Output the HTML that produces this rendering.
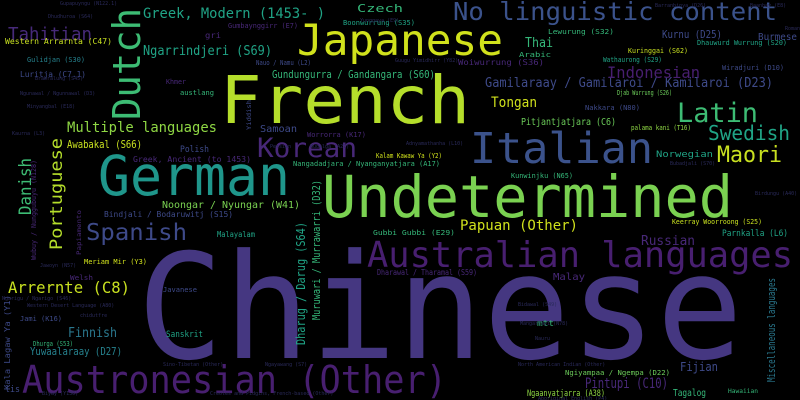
<!DOCTYPE html>
<html><head><meta charset="utf-8"><style>
html,body{margin:0;padding:0;background:#000;width:800px;height:400px;overflow:hidden;}
svg{display:block}
text{font-family:"DejaVu Sans Mono","Liberation Mono",monospace;}
</style></head><body>
<svg width="800" height="400" viewBox="0 0 800 400">
<rect width="800" height="400" fill="#000"/>
<g>
<text x="137" y="358" font-size="146" textLength="606" lengthAdjust="spacingAndGlyphs" fill="#453781">Chinese</text>
<text x="22" y="393" font-size="38" textLength="425" lengthAdjust="spacingAndGlyphs" fill="#481f70">Austronesian (Other)</text>
<text x="322" y="217" font-size="58" textLength="411" lengthAdjust="spacingAndGlyphs" fill="#7ad151">Undetermined</text>
<text x="220" y="123" font-size="66" textLength="250" lengthAdjust="spacingAndGlyphs" fill="#b5de2b">French</text>
<text x="297" y="55" font-size="43" textLength="206" lengthAdjust="spacingAndGlyphs" fill="#d0e11c">Japanese</text>
<text x="98" y="195" font-size="55" textLength="192" lengthAdjust="spacingAndGlyphs" fill="#1f968b">German</text>
<text x="470" y="163" font-size="43" textLength="183" lengthAdjust="spacingAndGlyphs" fill="#3b528b">Italian</text>
<text transform="translate(140,120) rotate(-90)" font-size="38" textLength="112" lengthAdjust="spacingAndGlyphs" fill="#3dbc74">Dutch</text>
<text x="367" y="267" font-size="36" textLength="426" lengthAdjust="spacingAndGlyphs" fill="#481f70">Australian languages</text>
<text x="257" y="157" font-size="27" textLength="100" lengthAdjust="spacingAndGlyphs" fill="#482878">Korean</text>
<text x="677" y="122" font-size="27" textLength="81" lengthAdjust="spacingAndGlyphs" fill="#3dbc74">Latin</text>
<text x="708" y="140" font-size="20" textLength="82" lengthAdjust="spacingAndGlyphs" fill="#20a486">Swedish</text>
<text x="717" y="162" font-size="22" textLength="65" lengthAdjust="spacingAndGlyphs" fill="#c8e020">Maori</text>
<text x="453" y="20" font-size="25" textLength="324" lengthAdjust="spacingAndGlyphs" fill="#3b528b">No linguistic content</text>
<text x="143" y="18" font-size="14" textLength="182" lengthAdjust="spacingAndGlyphs" fill="#20a486">Greek, Modern (1453- )</text>
<text x="8" y="40" font-size="18" textLength="84" lengthAdjust="spacingAndGlyphs" fill="#472a7a">Tahitian</text>
<text x="143" y="55" font-size="13" textLength="129" lengthAdjust="spacingAndGlyphs" fill="#20a486">Ngarrindjeri (S69)</text>
<text x="272" y="78" font-size="11" textLength="163" lengthAdjust="spacingAndGlyphs" fill="#35b779">Gundungurra / Gandangara (S60)</text>
<text x="485" y="87" font-size="13" textLength="288" lengthAdjust="spacingAndGlyphs" fill="#3e4a89">Gamilaraay / Gamilaroi / Kamilaroi (D23)</text>
<text x="607" y="78" font-size="16" textLength="93" lengthAdjust="spacingAndGlyphs" fill="#481f70">Indonesian</text>
<text x="491" y="107" font-size="14" textLength="46" lengthAdjust="spacingAndGlyphs" fill="#d0e11c">Tongan</text>
<text x="521" y="125" font-size="10" textLength="95" lengthAdjust="spacingAndGlyphs" fill="#6ccd5a">Pitjantjatjara (C6)</text>
<text x="67" y="132" font-size="14" textLength="150" lengthAdjust="spacingAndGlyphs" fill="#8fd744">Multiple languages</text>
<text x="67" y="148" font-size="11" textLength="75" lengthAdjust="spacingAndGlyphs" fill="#c8e020">Awabakal (S66)</text>
<text transform="translate(31,215) rotate(-90)" font-size="17" textLength="57" lengthAdjust="spacingAndGlyphs" fill="#3dbc74">Danish</text>
<text transform="translate(62,250) rotate(-90)" font-size="17" textLength="112" lengthAdjust="spacingAndGlyphs" fill="#b5de2b">Portuguese</text>
<text x="86" y="240" font-size="23" textLength="101" lengthAdjust="spacingAndGlyphs" fill="#3e4a89">Spanish</text>
<text x="8" y="293" font-size="16" textLength="122" lengthAdjust="spacingAndGlyphs" fill="#c8e020">Arrernte (C8)</text>
<text x="460" y="230" font-size="14" textLength="118" lengthAdjust="spacingAndGlyphs" fill="#d0e11c">Papuan (Other)</text>
<text x="641" y="245" font-size="13" textLength="54" lengthAdjust="spacingAndGlyphs" fill="#482878">Russian</text>
<text x="680" y="371" font-size="12" textLength="38" lengthAdjust="spacingAndGlyphs" fill="#3e4a89">Fijian</text>
<text x="68" y="337" font-size="13" textLength="49" lengthAdjust="spacingAndGlyphs" fill="#2a788e">Finnish</text>
<text x="30" y="355" font-size="11" textLength="92" lengthAdjust="spacingAndGlyphs" fill="#26828e">Yuwaalaraay (D27)</text>
<text transform="translate(775,382) rotate(-90)" font-size="11" textLength="104" lengthAdjust="spacingAndGlyphs" fill="#2a788e">Miscellaneous languages</text>
<text x="585" y="388" font-size="14" textLength="83" lengthAdjust="spacingAndGlyphs" fill="#482878">Pintupi (C10)</text>
<text x="527" y="396" font-size="9" textLength="78" lengthAdjust="spacingAndGlyphs" fill="#8fd744">Ngaanyatjarra (A38)</text>
<text x="525" y="47" font-size="13" textLength="28" lengthAdjust="spacingAndGlyphs" fill="#35b779">Thai</text>
<text x="357" y="12" font-size="11" textLength="46" lengthAdjust="spacingAndGlyphs" fill="#35b779">Czech</text>
<text x="662" y="38" font-size="11" textLength="60" lengthAdjust="spacingAndGlyphs" fill="#3e4a89">Kurnu (D25)</text>
<text x="758" y="40" font-size="10" textLength="39" lengthAdjust="spacingAndGlyphs" fill="#3e4a89">Burmese</text>
<text x="166" y="337" font-size="9" textLength="37" lengthAdjust="spacingAndGlyphs" fill="#20a486">Sanskrit</text>
<text x="217" y="237" font-size="8" textLength="38" lengthAdjust="spacingAndGlyphs" fill="#20a486">Malayalam</text>
<text x="260" y="132" font-size="10" textLength="37" lengthAdjust="spacingAndGlyphs" fill="#3e4a89">Samoan</text>
<text x="180" y="152" font-size="9" textLength="29" lengthAdjust="spacingAndGlyphs" fill="#3e4a89">Polish</text>
<text x="656" y="157" font-size="9" textLength="57" lengthAdjust="spacingAndGlyphs" fill="#20a486">Norwegian</text>
<text x="673" y="396" font-size="10" textLength="33" lengthAdjust="spacingAndGlyphs" fill="#35b779">Tagalog</text>
<text x="722" y="236" font-size="9" textLength="66" lengthAdjust="spacingAndGlyphs" fill="#20a486">Parnkalla (L6)</text>
<text x="162" y="208" font-size="10" textLength="138" lengthAdjust="spacingAndGlyphs" fill="#7ad151">Noongar / Nyungar (W41)</text>
<text x="84" y="264" font-size="7" textLength="63" lengthAdjust="spacingAndGlyphs" fill="#d0e11c">Meriam Mir (Y3)</text>
<text x="104" y="217" font-size="8" textLength="129" lengthAdjust="spacingAndGlyphs" fill="#3e4a89">Bindjali / Bodaruwitj (S15)</text>
<text x="376" y="158" font-size="7" textLength="66" lengthAdjust="spacingAndGlyphs" fill="#d0e11c">Kalam Kawaw Ya (Y2)</text>
<text x="293" y="166" font-size="7" textLength="147" lengthAdjust="spacingAndGlyphs" fill="#35b779">Nangadadjara / Nyanganyatjara (A17)</text>
<text transform="translate(305,345) rotate(-90)" font-size="12" textLength="123" lengthAdjust="spacingAndGlyphs" fill="#20a486">Dharug / Darug (S64)</text>
<text transform="translate(320,320) rotate(-90)" font-size="11" textLength="140" lengthAdjust="spacingAndGlyphs" fill="#35b779">Muruwari / Murrawarri (D32)</text>
<text x="133" y="162" font-size="8" textLength="118" lengthAdjust="spacingAndGlyphs" fill="#482878">Greek, Ancient (to 1453)</text>
<text x="511" y="178" font-size="7" textLength="62" lengthAdjust="spacingAndGlyphs" fill="#35b779">Kunwinjku (N65)</text>
<text x="631" y="130" font-size="7" textLength="60" lengthAdjust="spacingAndGlyphs" fill="#8fd744">palama kani (T16)</text>
<text x="672" y="224" font-size="7" textLength="90" lengthAdjust="spacingAndGlyphs" fill="#c8e020">Keerray Woorroong (S25)</text>
<text x="537" y="326" font-size="8" textLength="17" lengthAdjust="spacingAndGlyphs" fill="#35b779">mtt</text>
<text x="565" y="375" font-size="7" textLength="105" lengthAdjust="spacingAndGlyphs" fill="#6ccd5a">Ngiyampaa / Ngempa (D22)</text>
<text x="307" y="137" font-size="7" textLength="59" lengthAdjust="spacingAndGlyphs" fill="#482878">Worrorra (K17)</text>
<text x="373" y="235" font-size="7" textLength="82" lengthAdjust="spacingAndGlyphs" fill="#35b779">Gubbi Gubbi (E29)</text>
<text x="617" y="95" font-size="7" textLength="55" lengthAdjust="spacingAndGlyphs" fill="#6ccd5a">Djab Wurrung (S26)</text>
<text x="603" y="62" font-size="7" textLength="59" lengthAdjust="spacingAndGlyphs" fill="#20a486">Wathaurong (S29)</text>
<text x="628" y="53" font-size="7" textLength="60" lengthAdjust="spacingAndGlyphs" fill="#c8e020">Kuringgai (S62)</text>
<text x="548" y="34" font-size="7" textLength="66" lengthAdjust="spacingAndGlyphs" fill="#35b779">Lewurung (S32)</text>
<text x="458" y="65" font-size="8" textLength="86" lengthAdjust="spacingAndGlyphs" fill="#482878">Woiwurrung (S36)</text>
<text x="697" y="45" font-size="7" textLength="90" lengthAdjust="spacingAndGlyphs" fill="#20a486">Dhauwurd Wurrung (S20)</text>
<text x="722" y="70" font-size="7" textLength="62" lengthAdjust="spacingAndGlyphs" fill="#3e4a89">Wiradjuri (D10)</text>
<text x="519" y="57" font-size="7" textLength="32" lengthAdjust="spacingAndGlyphs" fill="#35b779">Arabic</text>
<text x="343" y="25" font-size="7" textLength="72" lengthAdjust="spacingAndGlyphs" fill="#20a486">Boonwurrung (S35)</text>
<text x="228" y="28" font-size="7" textLength="70" lengthAdjust="spacingAndGlyphs" fill="#482878">Gumbaynggirr (E7)</text>
<text x="205" y="38" font-size="8" textLength="16" lengthAdjust="spacingAndGlyphs" fill="#482878">gri</text>
<text x="256" y="65" font-size="7" textLength="55" lengthAdjust="spacingAndGlyphs" fill="#3e4a89">Nauo / Namu (L2)</text>
<text x="166" y="84" font-size="7" textLength="20" lengthAdjust="spacingAndGlyphs" fill="#482878">Khmer</text>
<text x="180" y="95" font-size="7" textLength="34" lengthAdjust="spacingAndGlyphs" fill="#35b779">austlang</text>
<text x="5" y="44" font-size="8" textLength="107" lengthAdjust="spacingAndGlyphs" fill="#c8e020">Western Arrarnta (C47)</text>
<text x="20" y="77" font-size="8" textLength="66" lengthAdjust="spacingAndGlyphs" fill="#3e4a89">Luritja (C7.1)</text>
<text x="27" y="62" font-size="7" textLength="58" lengthAdjust="spacingAndGlyphs" fill="#26828e">Gulidjan (S30)</text>
<text x="553" y="280" font-size="10" textLength="32" lengthAdjust="spacingAndGlyphs" fill="#482878">Malay</text>
<text x="377" y="275" font-size="8" textLength="100" lengthAdjust="spacingAndGlyphs" fill="#482878">Dharawal / Tharamal (S59)</text>
<text x="163" y="292" font-size="7" textLength="34" lengthAdjust="spacingAndGlyphs" fill="#3e4a89">Javanese</text>
<text x="70" y="280" font-size="7" textLength="23" lengthAdjust="spacingAndGlyphs" fill="#482878">Welsh</text>
<text x="20" y="321" font-size="7" textLength="42" lengthAdjust="spacingAndGlyphs" fill="#3e4a89">Jami (K16)</text>
<text x="5" y="392" font-size="9" textLength="15" lengthAdjust="spacingAndGlyphs" fill="#3e4a89">lis</text>
<text x="33" y="346" font-size="7" textLength="40" lengthAdjust="spacingAndGlyphs" fill="#35b779">Dhurga (S53)</text>
<text x="728" y="393" font-size="6" textLength="30" lengthAdjust="spacingAndGlyphs" fill="#35b779">Hawaiian</text>
<text x="585" y="110" font-size="7" textLength="55" lengthAdjust="spacingAndGlyphs" fill="#3e4a89">Nakkara (N80)</text>
<text transform="translate(10,390) rotate(-90)" font-size="8" textLength="95" lengthAdjust="spacingAndGlyphs" fill="#3e4a89">Kala Lagaw Ya (Y1)</text>
<text transform="translate(36,260) rotate(-90)" font-size="7" textLength="100" lengthAdjust="spacingAndGlyphs" fill="#482878">Wubuy / Nunggubuyu (N128)</text>
<text transform="translate(81,255) rotate(-90)" font-size="6" textLength="45" lengthAdjust="spacingAndGlyphs" fill="#482878">Papiamento</text>
<text transform="translate(251,130) rotate(-90)" font-size="6" textLength="30" lengthAdjust="spacingAndGlyphs" fill="#3e4a89">Yiddish</text>
</g>
<g fill="#2a2a5a" font-size="5">
<text x="48" y="18">Dhudhuroa (S64)</text>
<text x="60" y="5">Gupapuyngu (N122.1)</text>
<text x="35" y="80">Brabralung (S45)</text>
<text x="20" y="95">Ngunawal / Ngunnawal (D3)</text>
<text x="27" y="108">Minyangbal (E18)</text>
<text x="12" y="135">Kaurna (L3)</text>
<text x="40" y="267">Jawoyn (N57)</text>
<text x="2" y="300">Ngarigu / Ngarigo (S46)</text>
<text x="27" y="307">Western Desert Language (A80)</text>
<text x="80" y="317">chidutfre</text>
<text x="42" y="395">Biyay (Y130)</text>
<text x="210" y="395">Creoles and Pidgins, French-based (Other)</text>
<text x="163" y="366">Sino-Tibetan (Other)</text>
<text x="265" y="366">Ngayawang (S7)</text>
<text x="520" y="325">Mangarrayi (N78)</text>
<text x="518" y="306">Bidawal (S49)</text>
<text x="518" y="366">North American Indian (Other)</text>
<text x="535" y="340">Nauru</text>
<text x="538" y="400">Aboriginal English (P4)</text>
<text x="540" y="410">Gooreng Gooreng (E32)</text>
<text x="755" y="195">Birdungu (A40)</text>
<text x="670" y="165">Bubadjali (S70)</text>
<text x="655" y="7">Barranbinya (D26)</text>
<text x="750" y="7">Baanbay (E8)</text>
<text x="785" y="30">Romanian</text>
<text x="310" y="148">Mudalga (A27)</text>
<text x="406" y="145">Adnyamathanha (L10)</text>
<text x="270" y="148">Persian</text>
<text x="360" y="22">Yunggaya (E9)</text>
<text x="395" y="62">Guugu Yimidhirr (Y82)</text>
</g>
</svg>
</body></html>
